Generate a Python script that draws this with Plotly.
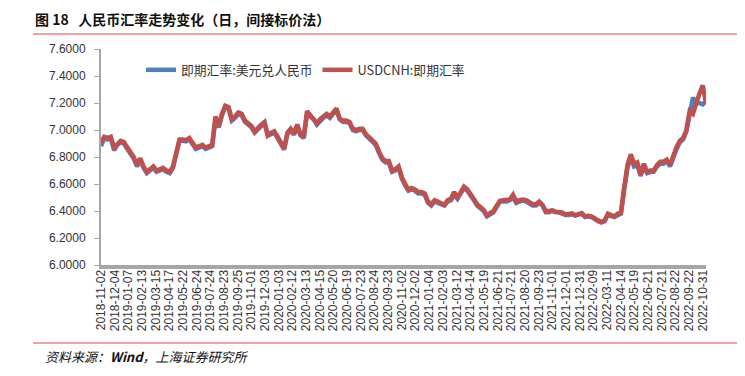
import numpy as np
import plotly.graph_objects as go

# ---- data ----
tick_dates = [
    "2018-11-02", "2018-12-04", "2019-01-07", "2019-02-13", "2019-03-15", "2019-04-17",
    "2019-05-22", "2019-06-24", "2019-07-24", "2019-08-23", "2019-09-25", "2019-11-01",
    "2019-12-03", "2020-01-03", "2020-02-12", "2020-03-13", "2020-04-15", "2020-05-20",
    "2020-06-19", "2020-07-23", "2020-08-24", "2020-09-23", "2020-11-02", "2020-12-02",
    "2021-01-04", "2021-02-03", "2021-03-12", "2021-04-14", "2021-05-19", "2021-06-21",
    "2021-07-21", "2021-08-20", "2021-09-23", "2021-11-01", "2021-12-01", "2021-12-31",
    "2022-02-09", "2022-03-11", "2022-04-14", "2022-05-19", "2022-06-21", "2022-07-21",
    "2022-08-22", "2022-09-22", "2022-10-31",
]
TICK_EVERY = 22      # trading days between tick labels
STEP = 5.26          # trading days between sampled values

usdcnh = [
    6.91, 6.95, 6.94, 6.95, 6.87, 6.90, 6.92, 6.91, 6.876, 6.83,
    6.80, 6.74, 6.79, 6.73, 6.69, 6.71, 6.73, 6.70, 6.71, 6.72,
    6.70, 6.69, 6.73, 6.85, 6.93, 6.93, 6.925, 6.94, 6.91, 6.87,
    6.88, 6.89, 6.87, 6.88, 6.89, 7.10, 7.03, 7.12, 7.18, 7.17,
    7.08, 7.10, 7.13, 7.12, 7.07, 7.05, 7.03, 6.99, 7.02, 7.04,
    7.06, 6.96, 6.98, 6.99, 6.95, 6.90, 6.864, 6.98, 7.01, 6.975,
    7.04, 6.97, 6.95, 7.14, 7.11, 7.09, 7.05, 7.08, 7.10, 7.12,
    7.10, 7.13, 7.16, 7.08, 7.07, 7.07, 7.06, 7.01, 7.00, 7.01,
    7.01, 6.97, 6.95, 6.92, 6.90, 6.84, 6.79, 6.77, 6.77, 6.70,
    6.71, 6.73, 6.65, 6.60, 6.56, 6.57, 6.56, 6.54, 6.54, 6.53,
    6.47, 6.45, 6.48, 6.47, 6.46, 6.445, 6.48, 6.49, 6.54, 6.50,
    6.54, 6.58, 6.56, 6.53, 6.49, 6.45, 6.43, 6.41, 6.37, 6.39,
    6.40, 6.44, 6.475, 6.48, 6.48, 6.485, 6.52, 6.47, 6.48, 6.485,
    6.48, 6.46, 6.45, 6.45, 6.47, 6.445, 6.40, 6.40, 6.405, 6.395,
    6.395, 6.39, 6.375, 6.375, 6.383, 6.37, 6.38, 6.385, 6.36, 6.365,
    6.36, 6.34, 6.33, 6.32, 6.33, 6.38, 6.37, 6.36, 6.38, 6.39,
    6.58, 6.74, 6.82, 6.75, 6.76, 6.67, 6.75, 6.69, 6.70, 6.70,
    6.74, 6.765, 6.765, 6.78, 6.74, 6.815, 6.875, 6.92, 6.94, 7.00,
    7.14, 7.12, 7.21, 7.27, 7.33, 7.20,
]

usdcny = [
    6.88, 6.94, 6.93, 6.94, 6.85, 6.89, 6.91, 6.90, 6.86, 6.82,
    6.79, 6.73, 6.78, 6.72, 6.68, 6.70, 6.72, 6.69, 6.70, 6.71,
    6.69, 6.68, 6.72, 6.83, 6.92, 6.92, 6.915, 6.93, 6.90, 6.86,
    6.87, 6.88, 6.86, 6.87, 6.88, 7.08, 7.02, 7.11, 7.17, 7.16,
    7.07, 7.09, 7.12, 7.11, 7.06, 7.04, 7.02, 6.98, 7.01, 7.03,
    7.05, 6.96, 6.97, 6.98, 6.94, 6.89, 6.855, 6.97, 7.00, 6.965,
    7.03, 6.96, 6.94, 7.12, 7.10, 7.08, 7.04, 7.07, 7.09, 7.11,
    7.09, 7.12, 7.15, 7.08, 7.06, 7.06, 7.05, 7.00, 6.99, 7.00,
    7.00, 6.96, 6.94, 6.91, 6.89, 6.83, 6.78, 6.76, 6.76, 6.69,
    6.70, 6.72, 6.64, 6.59, 6.55, 6.56, 6.55, 6.53, 6.53, 6.52,
    6.46, 6.44, 6.47, 6.46, 6.45, 6.44, 6.47, 6.48, 6.52, 6.49,
    6.53, 6.57, 6.55, 6.52, 6.48, 6.44, 6.42, 6.40, 6.36, 6.38,
    6.39, 6.43, 6.47, 6.47, 6.47, 6.48, 6.50, 6.46, 6.47, 6.48,
    6.47, 6.45, 6.44, 6.44, 6.46, 6.44, 6.39, 6.39, 6.40, 6.39,
    6.39, 6.38, 6.37, 6.37, 6.375, 6.365, 6.37, 6.38, 6.355, 6.36,
    6.355, 6.335, 6.325, 6.315, 6.325, 6.37, 6.365, 6.355, 6.37, 6.38,
    6.56, 6.72, 6.80, 6.73, 6.74, 6.66, 6.73, 6.68, 6.69, 6.69,
    6.73, 6.75, 6.75, 6.77, 6.73, 6.80, 6.86, 6.91, 6.93, 6.99,
    7.13, 7.24, 7.20, 7.20, 7.19, 7.21,
]

name_cny = "即期汇率:美元兑人民币"
name_cnh = "USDCNH:即期汇率"
title_text = "图 18   人民币汇率走势变化（日，间接标价法）"
source_text = "资料来源：<b>Wind</b>，上海证券研究所"

# ---- figure ----
# The page keeps the browser's default 8 px body margin, so the figure is
# drawn 8 px in from the window's top-left corner; layout is offset to match.
W, H = 745, 376
OFF = 8
L, R, T, B = 101 - OFF, 706 - OFF, 49 - OFF, 265 - OFF   # plot area in figure px

def px(xp):
    """window-pixel x -> paper x"""
    return (xp - OFF - L) / (R - L)

def py(yp):
    """window-pixel y -> paper y"""
    return (B - (yp - OFF)) / (B - T)

FONT = "Liberation Sans, Arial, Noto Sans CJK SC, sans-serif"
CJK = "Noto Sans CJK SC, Liberation Sans, sans-serif"

day_cny = np.arange(len(usdcny)) * STEP
day_cnh = np.arange(len(usdcnh)) * STEP

fig = go.Figure()
fig.add_trace(go.Scatter(x=day_cny, y=usdcny, mode="lines", name=name_cny,
                         line=dict(color="#4F81BD", width=4.5)))
fig.add_trace(go.Scatter(x=day_cnh, y=usdcnh, mode="lines", name=name_cnh,
                         line=dict(color="#C0504D", width=4.5)))

tickvals = [i * TICK_EVERY for i in range(len(tick_dates))]

fig.update_layout(
    width=W, height=H,
    margin=dict(l=L, r=W - R, t=T, b=H - B, pad=0),
    paper_bgcolor="white", plot_bgcolor="white",
    font=dict(family=FONT, size=12, color="#333333"),
    showlegend=True,
    legend=dict(orientation="h", x=px(141), y=py(70), xanchor="left", yanchor="middle",
                font=dict(family=CJK, size=12.8, color="#333333"),
                bgcolor="rgba(0,0,0,0)", itemwidth=30, tracegroupgap=0),
    xaxis=dict(range=[0, day_cnh[-1]], tickmode="array", tickvals=tickvals,
               ticktext=tick_dates, tickangle=-90, showgrid=False, zeroline=False,
               showline=True, linecolor="#A6A6A6", linewidth=4,
               ticks="", ticklabelstandoff=-4,
               tickfont=dict(family=FONT, size=12, color="#333333")),
    yaxis=dict(range=[6.0, 7.6], dtick=0.2, tick0=6.0, tickformat=".4f",
               showgrid=False, zeroline=False, showline=True, linecolor="#A6A6A6",
               linewidth=2, ticks="outside", ticklen=5, tickcolor="#A6A6A6",
               ticklabelstandoff=6,
               tickfont=dict(family=FONT, size=12, color="#333333")),
)

fig.add_annotation(text="<b>" + title_text + "</b>", xref="paper", yref="paper",
                   x=px(33), y=py(19), xanchor="left", yanchor="middle", showarrow=False,
                   font=dict(family=CJK, size=14, color="#111111"))
fig.add_annotation(text="<i>" + source_text + "</i>", xref="paper", yref="paper",
                   x=px(43), y=py(356), xanchor="left", yanchor="middle", showarrow=False,
                   font=dict(family=CJK, size=13, color="#111111"))

# thin salmon rules under the title and above the source line
for yl in (34, 343):
    fig.add_shape(type="line", xref="paper", yref="paper", x0=px(33), x1=px(744),
                  y0=py(yl), y1=py(yl), layer="above",
                  line=dict(color="#EE8080", width=1.6))

fig.write_html("out.html", config={"displayModeBar": False})
